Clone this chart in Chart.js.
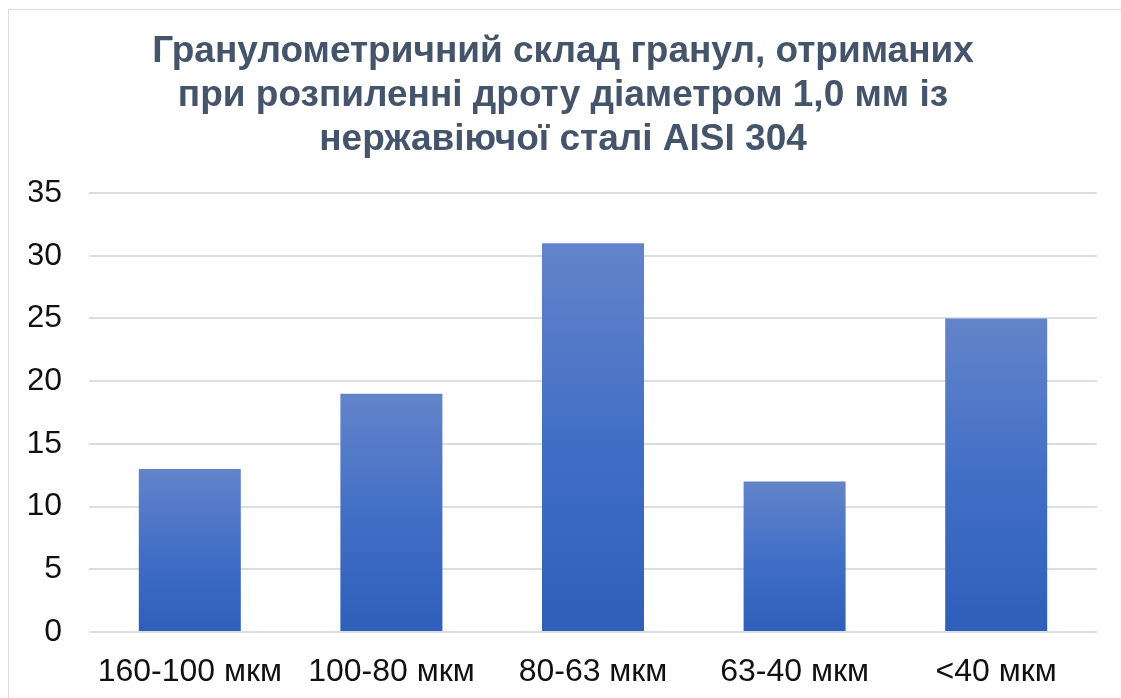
<!DOCTYPE html>
<html>
<head>
<meta charset="utf-8">
<script src="https://cdn.jsdelivr.net/npm/chart.js@4"></script>
<style>
  html, body { margin: 0; padding: 0; background: #fff; overflow: hidden; }
  #frame {
    position: absolute; left: 8px; top: 9px;
    width: 1300px; height: 900px;
    border-left: 1px solid #d9dde3; border-top: 1px solid #d9dde3;
  }
  #wrap { position: absolute; left: 0; top: 0; width: 1121px; height: 698px; }
</style>
</head>
<body>
<div id="frame"></div>
<div id="wrap"><canvas id="granChart"></canvas></div>
<script>
const fractions = ['160-100 мкм', '100-80 мкм', '80-63 мкм', '63-40 мкм', '<40 мкм'];
const shares = [13, 19, 31, 12, 25];
const yTicks = [0, 5, 10, 15, 20, 25, 30, 35];
const titleLines = [
  'Гранулометричний склад гранул, отриманих',
  'при розпиленні дроту діаметром 1,0 мм із',
  'нержавіючої сталі AISI 304'
];

const FONT = 'Liberation Sans, Arial, sans-serif';

// each bar gets its own top-to-bottom gradient
function barFill(ctx) {
  const chart = ctx.chart;
  const y = chart.scales.y;
  if (!chart.chartArea || !y || ctx.raw === undefined) return '#4472c4';
  const top = y.getPixelForValue(ctx.raw);
  const base = y.getPixelForValue(0);
  const g = chart.ctx.createLinearGradient(0, top, 0, base);
  g.addColorStop(0, '#6384ca');
  g.addColorStop(0.5, '#426fc6');
  g.addColorStop(1, '#2e5fb9');
  return g;
}

new Chart(document.getElementById('granChart'), {
  type: 'bar',
  data: {
    labels: fractions,
    datasets: [{
      data: shares,
      backgroundColor: barFill,
      borderWidth: 0,
      barPercentage: 0.506,
      categoryPercentage: 1
    }]
  },
  options: {
    responsive: true,
    maintainAspectRatio: false,
    animation: false,
    layout: { padding: { top: 0, left: 29, right: 24, bottom: 0 } },
    plugins: {
      legend: { display: false },
      tooltip: { enabled: false },
      title: {
        display: true,
        text: titleLines,
        color: '#44546a',
        font: { family: FONT, size: 37, weight: 'bold', lineHeight: 44 / 37 },
        padding: { top: 30, bottom: 31 }
      }
    },
    scales: {
      x: {
        grid: { display: false, drawTicks: false },
        border: { display: false },
        afterFit: axis => {
          axis.paddingLeft = 0;
          axis.paddingRight = 0;
          axis.height = 66;
        },
        ticks: {
          color: '#111',
          padding: 21,
          maxRotation: 0,
          font: { family: FONT, size: 32 }
        }
      },
      y: {
        min: 0,
        max: 35,
        afterBuildTicks: axis => { axis.ticks = yTicks.map(v => ({ value: v })); },
        afterFit: axis => { axis.width = 60; },
        grid: { color: '#d9dee6', lineWidth: 2, drawTicks: false },
        border: { display: false },
        ticks: {
          color: '#111',
          padding: 27,
          font: { family: FONT, size: 32 }
        }
      }
    }
  }
});
</script>
</body>
</html>
